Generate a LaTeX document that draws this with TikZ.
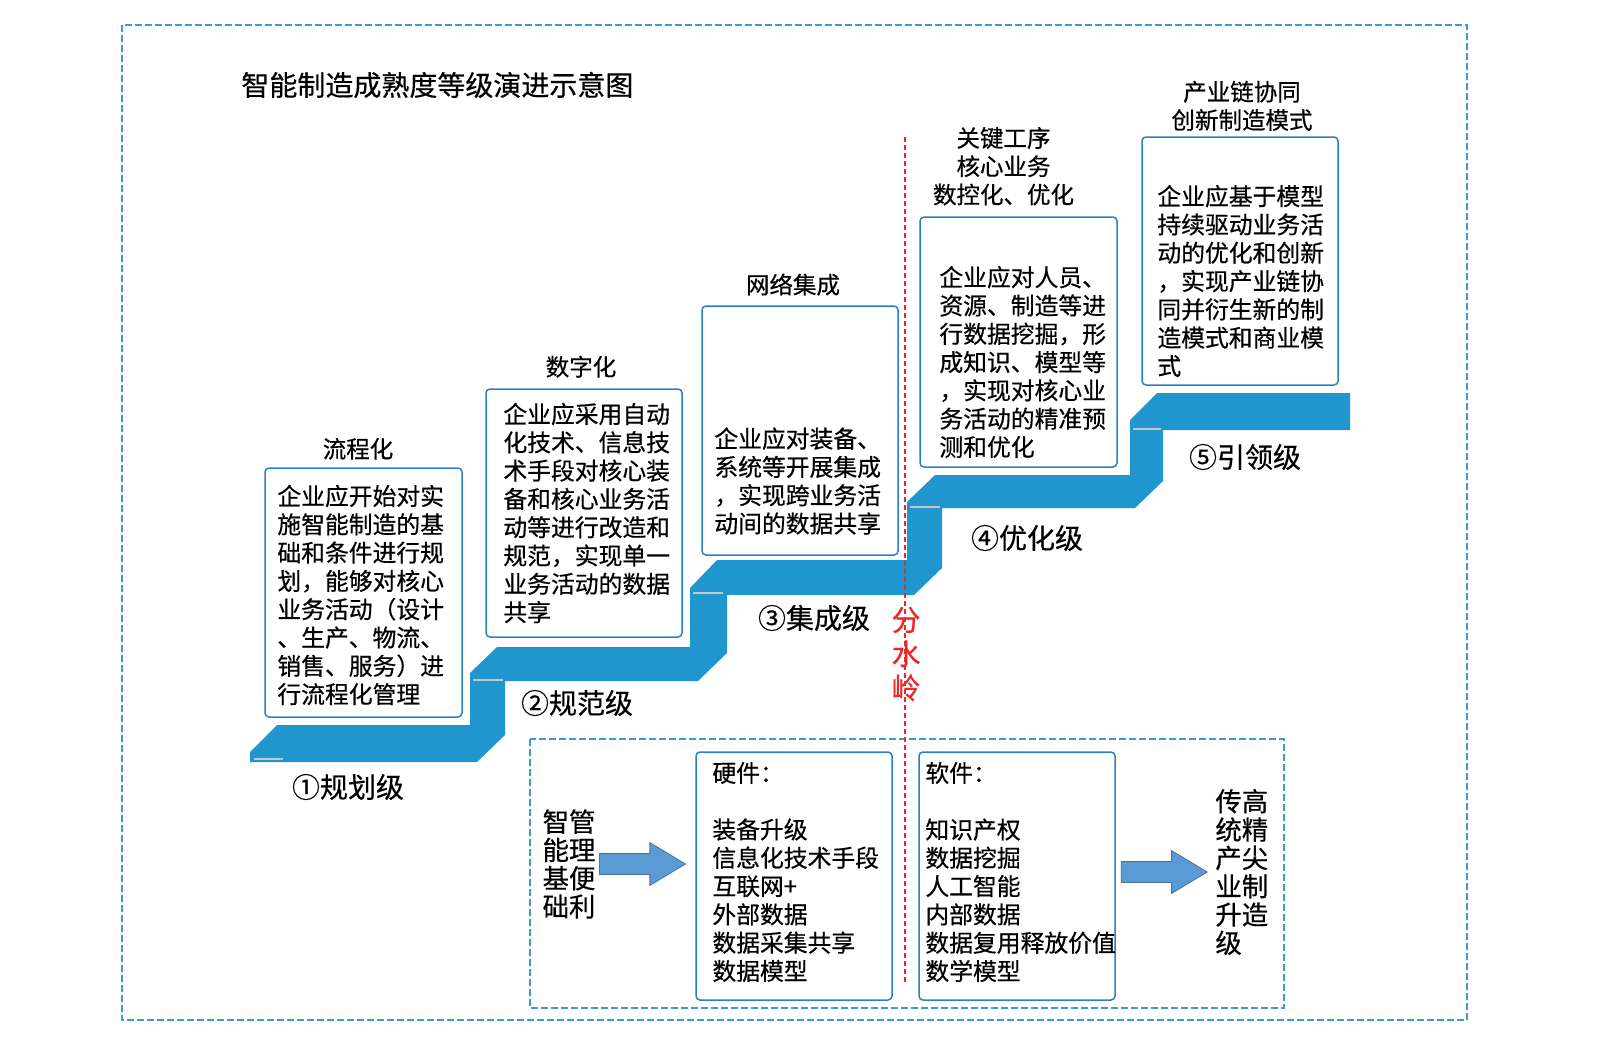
\documentclass[tikz,border=0pt]{standalone}
\usepackage{fontspec}
\setmainfont{Noto Sans CJK SC}[FakeBold=0.5]
\usetikzlibrary{arrows.meta,positioning,fit,calc,shapes.arrows}
\definecolor{stairblue}{RGB}{32,150,206}
\definecolor{boxblue}{RGB}{41,128,197}
\definecolor{frameblue}{RGB}{60,155,215}
\definecolor{arrowblue}{RGB}{91,155,213}
\definecolor{cutred}{RGB}{235,40,40}
\tikzset{
  stepbox/.style={draw=boxblue,line width=0.75pt,rounded corners=2pt,fill=white,inner sep=0pt},
  boxtext/.style={font=\fontsize{11.9}{14.15}\selectfont,align=left,inner sep=0pt,anchor=west},
  head/.style={font=\fontsize{11.75}{14.15}\selectfont,align=center,inner sep=0pt},
  level/.style={font=\fontsize{14}{16}\selectfont,inner sep=0pt},
  side/.style={font=\fontsize{13.2}{14.15}\selectfont,align=left,inner sep=0pt},
  frame/.style={draw=frameblue,line width=0.65pt,dash pattern=on 3.5pt off 1.5pt},
  bigarrow/.style={single arrow,draw=arrowblue!75!black,line width=0.4pt,fill=arrowblue,
    minimum height=43pt,minimum width=21pt,single arrow head extend=5.5pt,
    single arrow tip angle=62,inner xsep=0pt,inner ysep=5pt,anchor=tip},
  edge/.style={gray!45,line width=0.8pt},
}
\begin{document}
\begin{tikzpicture}[x=0.5pt,y=-0.5pt]
  \useasboundingbox (0,0) rectangle (1600,1040);
  \draw[frame] (122,25) rectangle (1467,1020);
  \node[font=\fontsize{14}{16}\selectfont,inner sep=0pt,anchor=west] (title) at (241,85)
    {智能制造成熟度等级演进示意图};

  % the staircase band
  \fill[stairblue] (250,762) -- (250,752) -- (277,725) -- (470,725) -- (470,673)
    -- (497,647) -- (690,647) -- (690,588) -- (717,560) -- (907,560) -- (907,502)
    -- (935,475) -- (1130,475) -- (1130,420) -- (1157,393) -- (1350,393) -- (1350,430)
    -- (1163,430) -- (1163,481) -- (1135,508) -- (942,508) -- (942,568) -- (914,595)
    -- (727,595) -- (727,653) -- (698,681) -- (505,681) -- (505,735) -- (477,762) -- cycle;
  \draw[edge] (254,759) -- (283,759);
  \draw[edge] (473,680) -- (503,680);
  \draw[edge] (693,593) -- (723,593);
  \draw[edge] (910,507) -- (940,507);
  \draw[edge] (1133,429) -- (1161,429);

  % level boxes
  \node[stepbox,fit={(265,468)(462,717)}] (b1) {};
  \node[stepbox,fit={(486,389)(682,637)}] (b2) {};
  \node[stepbox,fit={(702,306)(898,555)}] (b3) {};
  \node[stepbox,fit={(920,217)(1117,467)}] (b4) {};
  \node[stepbox,fit={(1142,137)(1338,385)}] (b5) {};

  \node[head,above=3.6pt of b1,xshift=-2.75pt] (h1) {流程化};
  \node[head,above=5.1pt of b2,xshift=-1.5pt] (h2) {数字化};
  \node[head,above=4.6pt of b3,xshift=-3.5pt] (h3) {网络集成};
  \node[head,above=5.2pt of b4,xshift=-7.5pt] (h4) {关键工序\\核心业务\\数控化、优化};
  \node[head,above=2.5pt of b5,xshift=1pt] (h5) {产业链协同\\创新制造模式};

  \node[boxtext] (t1) at (277,595) {企业应开始对实\\施智能制造的基\\础和条件进行规\\划，能够对核心\\业务活动（设计\\、生产、物流、\\销售、服务）进\\行流程化管理};
  \node[boxtext] (t2) at (503,513) {企业应采用自动\\化技术、信息技\\术手段对核心装\\备和核心业务活\\动等进行改造和\\规范，实现单一\\业务活动的数据\\共享};
  \node[boxtext] (t3) at (714,481) {企业应对装备、\\系统等开展集成\\，实现跨业务活\\动间的数据共享};
  \node[boxtext] (t4) at (939,362) {企业应对人员、\\资源、制造等进\\行数据挖掘，形\\成知识、模型等\\，实现对核心业\\务活动的精准预\\测和优化};
  \node[boxtext] (t5) at (1157,281) {企业应基于模型\\持续驱动业务活\\动的优化和创新\\，实现产业链协\\同并衍生新的制\\造模式和商业模\\式};

  \node[level] (l1) at (348,787) {①规划级};
  \node[level] (l2) at (577,703) {②规范级};
  \node[level] (l3) at (814,618) {③集成级};
  \node[level] (l4) at (1027,538) {④优化级};
  \node[level] (l5) at (1245,457) {⑤引领级};

  % lower part: what is needed
  \draw[frame] (530,739) rectangle (1284,1008);
  \node[stepbox,fit={(696,752)(892,1000)}] (hw) {};
  \node[stepbox,fit={(919,752)(1115,1000)}] (sw) {};
  \node[boxtext] (hwt) at (712,872) {硬件：\\[14.15pt]装备升级\\信息化技术手段\\互联网+\\外部数据\\数据采集共享\\数据模型};
  \node[boxtext] (swt) at (925,872) {软件：\\[14.15pt]知识产权\\数据挖掘\\人工智能\\内部数据\\数据复用释放价值\\数学模型};
  \node[side] (sl) at (569,864) {智管\\能理\\基便\\础利};
  \node[side,anchor=west] (sr) at (1215,872) {传高\\统精\\产尖\\业制\\升造\\级};
  \node[bigarrow] (a1) at ([xshift=-4.5pt]hw.west |- sl) {};
  \node[bigarrow] (a2) at ([xshift=-3.5pt]sr.west) {};

  % watershed
  \draw[cutred,line width=0.6pt,dash pattern=on 2.5pt off 1.5pt] (905,137) -- (905,983);
  \node[font=\fontsize{14.5}{17}\selectfont,text=cutred,align=center,inner sep=0pt] (ws) at (906,654) {分\\水\\岭};
\end{tikzpicture}
\end{document}
